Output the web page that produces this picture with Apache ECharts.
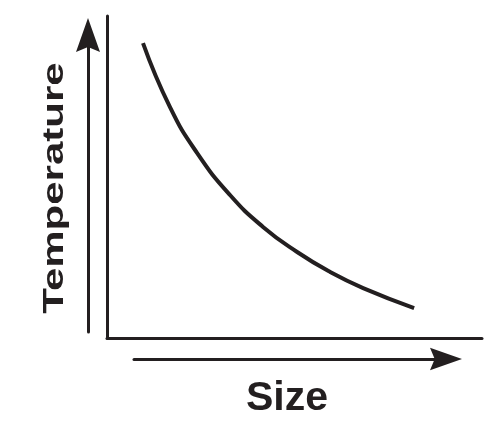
<!DOCTYPE html>
<html>
<head>
<meta charset="utf-8">
<script src="https://cdn.jsdelivr.net/npm/echarts@6/dist/echarts.min.js"></script>
<style>
html,body{margin:0;padding:0;background:#fff;}
#chart{width:488px;height:426px;}
</style>
</head>
<body>
<div id="chart"></div>
<script>
// Size (arbitrary units) and Temperature (arbitrary units)
var sizeValues = [0.96, 1.68, 2.40, 3.28, 4.16, 5.07, 5.95, 6.83, 8.19];
var temperatureValues = [9.16, 7.17, 5.75, 4.44, 3.45, 2.67, 2.05, 1.55, 0.93];
var xTitle = 'Size';
var yTitle = 'Temperature';

var ink = '#231f20';
var arrowPath = 'path://M12,0 L24,34 L12,29 L0,34 Z';

var chart = echarts.init(document.getElementById('chart'));
var pts = sizeValues.map(function (x, i) { return [x, temperatureValues[i]]; });

chart.setOption({
  animation: false,
  backgroundColor: '#ffffff',
  grid: [
    { left: 107, right: 6, top: 16, bottom: 88 },
    { left: 88, width: 1, top: 35, bottom: 94 },
    { left: 134, right: 42, top: 358, height: 1 }
  ],
  xAxis: [
    { gridIndex: 0, type: 'value', min: 0, max: 10,
      axisLine: { show: true, onZero: false, lineStyle: { color: ink, width: 3 } },
      axisTick: { show: false }, axisLabel: { show: false }, splitLine: { show: false } },
    { gridIndex: 1, type: 'value', show: false, min: 0, max: 1 },
    { gridIndex: 2, type: 'value', min: 0, max: 1, position: 'bottom',
      axisLine: { show: true, onZero: false, symbol: ['none', arrowPath], symbolSize: [24, 32],
        lineStyle: { color: ink, width: 3 } },
      axisTick: { show: false }, axisLabel: { show: false }, splitLine: { show: false } }
  ],
  yAxis: [
    { gridIndex: 0, type: 'value', min: 0, max: 10,
      axisLine: { show: true, onZero: false, lineStyle: { color: ink, width: 3 } },
      axisTick: { show: false }, axisLabel: { show: false }, splitLine: { show: false } },
    { gridIndex: 1, type: 'value', min: 0, max: 1, position: 'left',
      axisLine: { show: true, onZero: false, symbol: ['none', arrowPath], symbolSize: [25, 34],
        lineStyle: { color: ink, width: 3 } },
      axisTick: { show: false }, axisLabel: { show: false }, splitLine: { show: false } },
    { gridIndex: 2, type: 'value', show: false, min: 0, max: 1 }
  ],
  series: [{
    type: 'line',
    xAxisIndex: 0, yAxisIndex: 0,
    data: pts,
    smooth: 0.5,
    showSymbol: false,
    symbol: 'none',
    lineStyle: { color: ink, width: 4, cap: 'butt' }
  }],
  graphic: [
    { type: 'text', x: 55, y: 188, rotation: Math.PI / 2, scaleY: 0.7,
      style: { text: yTitle, fontFamily: 'Liberation Sans, Arial, sans-serif', fontWeight: 'bold',
        fontSize: 42, fill: ink, textAlign: 'center', textVerticalAlign: 'middle' } },
    { type: 'text', x: 287, y: 399,
      style: { text: xTitle, fontFamily: 'Liberation Sans, Arial, sans-serif', fontWeight: 'bold',
        fontSize: 41, fill: ink, textAlign: 'center', textVerticalAlign: 'middle' } }
  ]
});
</script>
</body>
</html>
